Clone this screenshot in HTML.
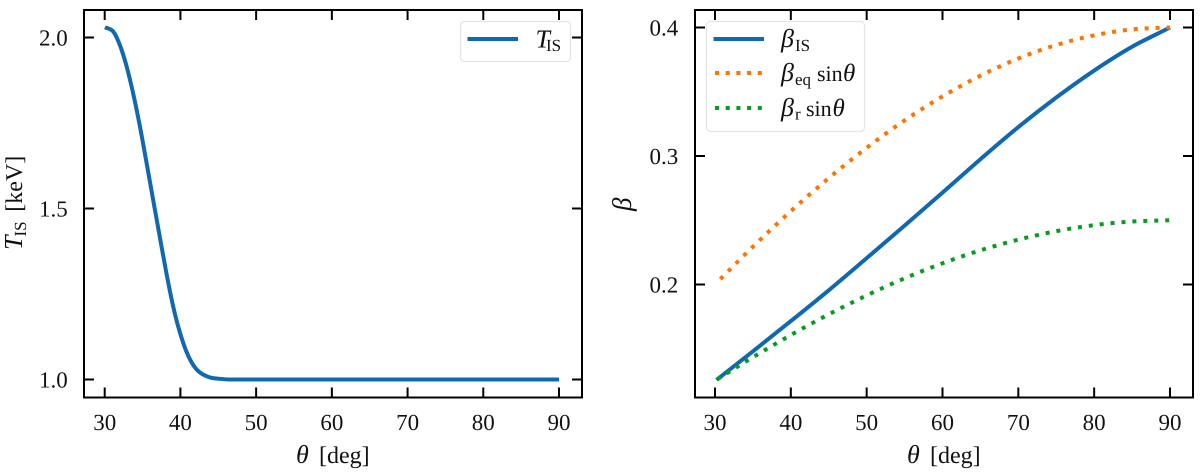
<!DOCTYPE html>
<html lang="en">
<head>
<meta charset="utf-8">
<title>Temperature and velocity versus angle</title>
<style>
html,body{margin:0;padding:0;background:#fff;width:1200px;height:476px;overflow:hidden}
svg{display:block}
text{font-family:"Liberation Serif","DejaVu Serif",serif;fill:#111;text-rendering:geometricPrecision}
.it{font-style:italic}
</style>
</head>
<body>
<svg id="figure" xmlns="http://www.w3.org/2000/svg" width="1200" height="476" viewBox="0 0 1200 476">
  <rect x="0" y="0" width="1200" height="476" fill="#fff"/>
  <g id="left-panel"></g>
  <g id="right-panel"></g>

  <text y="463" font-size="24"><tspan class="it" x="296" font-size="26">θ</tspan><tspan x="319">[deg]</tspan></text>
  <text y="463" font-size="24"><tspan class="it" x="907" font-size="26">θ</tspan><tspan x="930">[deg]</tspan></text>

  <text transform="translate(22,250) rotate(-90)" font-size="24"><tspan class="it" x="0" y="0" font-size="26">T</tspan><tspan x="13.5" y="4" font-size="17">IS</tspan><tspan x="38.3" y="0">[keV]</tspan></text>
  <text transform="translate(631,211) rotate(-90)" font-size="27" class="it">β</text>

  <g>
    <rect x="460.5" y="21.5" width="110" height="40" rx="4" ry="4" fill="#fff" stroke="#e4e4e4" stroke-width="1.2"/>
    <line x1="467.5" x2="518" y1="39" y2="39" stroke="#1068b0" stroke-width="4"/>
    <text><tspan class="it" x="535.5" y="47.5" font-size="26">T</tspan><tspan x="546" y="51" font-size="17">IS</tspan></text>
  </g>

  <g>
    <rect x="706.5" y="21.5" width="158" height="110" rx="4" ry="4" fill="#fff" stroke="#e4e4e4" stroke-width="1.2"/>
    <line x1="713.5" x2="764" y1="39" y2="39" stroke="#1068b0" stroke-width="4"/>
    <line x1="715" x2="764" y1="73" y2="73" stroke="#ff7300" stroke-width="4" stroke-dasharray="4 6.7"/>
    <line x1="715" x2="764" y1="108" y2="108" stroke="#0a9a1e" stroke-width="4" stroke-dasharray="4 6.7"/>
    <text><tspan class="it" x="781" y="47" font-size="26">β</tspan><tspan x="795" y="51" font-size="17">IS</tspan></text>
    <text><tspan class="it" x="781" y="81" font-size="26">β</tspan><tspan x="795" y="85" font-size="17">eq</tspan><tspan x="817" y="81" font-size="22">sin</tspan><tspan class="it" x="843" y="81" font-size="25">θ</tspan></text>
    <text><tspan class="it" x="781" y="116" font-size="26">β</tspan><tspan x="795" y="119.5" font-size="17">r</tspan><tspan x="806" y="116" font-size="22">sin</tspan><tspan class="it" x="832.5" y="116" font-size="25">θ</tspan></text>
  </g>
</svg>

<script>
// Shared tick labels
const xTickValues = [30, 40, 50, 60, 70, 80, 90];
const leftYTickValues = [1.0, 1.5, 2.0];
const rightYTickValues = [0.2, 0.3, 0.4];

// Left panel series
const tempTheta = [30.04, 31.14, 32.0, 32.9, 33.8, 34.66, 35.5, 36.4, 37.3, 38.2, 39.05, 39.9, 40.8, 41.7, 42.6, 43.9, 45.2, 46.5, 50, 60, 70, 80, 90];
const tempValues = [2.03, 2.017, 1.978, 1.915, 1.832, 1.739, 1.637, 1.525, 1.414, 1.305, 1.213, 1.14, 1.081, 1.042, 1.02, 1.006, 1.002, 1.0, 1.0, 1.0, 1.0, 1.0, 1.0];

// Right panel series
const betaIsTheta = [30.2, 35, 40, 45, 50, 55, 60, 65, 70, 75, 80, 85, 90];
const betaIsValues = [0.1257, 0.148, 0.1715, 0.1955, 0.2205, 0.2458, 0.2715, 0.2975, 0.3225, 0.3455, 0.3665, 0.385, 0.4];
const betaEqTheta = [30.7, 35, 40, 45, 50, 55, 60, 65, 70, 75, 80, 85, 90];
const betaEqValues = [0.2042, 0.2294, 0.2571, 0.2828, 0.3064, 0.3277, 0.3464, 0.3625, 0.3759, 0.3864, 0.3939, 0.3985, 0.4];
const betaRTheta = [30.3, 35, 40, 45, 50, 55, 60, 65, 70, 75, 80, 85, 90];
const betaRValues = [0.1262, 0.1434, 0.1607, 0.1768, 0.1915, 0.2048, 0.2165, 0.2266, 0.2349, 0.2415, 0.2462, 0.249, 0.25];

const NS = 'http://www.w3.org/2000/svg';

function linear(d0, d1, r0, r1) {
  return function (v) { return r0 + (v - d0) * (r1 - r0) / (d1 - d0); };
}

function make(parent, tag, attrs) {
  const el = document.createElementNS(NS, tag);
  for (const k in attrs) el.setAttribute(k, attrs[k]);
  parent.appendChild(el);
  return el;
}

// Cubic path through the mapped data points, with monotone-limited central tangents
function smoothPath(xs, ys, xScale, yScale) {
  const px = xs.map(xScale);
  const py = ys.map(yScale);
  const n = px.length;
  const sl = [];
  for (let i = 0; i < n - 1; i++) sl.push((py[i + 1] - py[i]) / (px[i + 1] - px[i]));
  const m = [sl[0]];
  for (let i = 1; i < n - 1; i++) {
    if (sl[i - 1] * sl[i] <= 0) { m.push(0); continue; }
    const central = (py[i + 1] - py[i - 1]) / (px[i + 1] - px[i - 1]);
    const limit = 3 * Math.min(Math.abs(sl[i - 1]), Math.abs(sl[i]));
    m.push(Math.sign(central) * Math.min(Math.abs(central), limit));
  }
  m.push(sl[n - 2]);
  let d = 'M' + px[0].toFixed(2) + ' ' + py[0].toFixed(2);
  for (let i = 0; i < n - 1; i++) {
    const h = (px[i + 1] - px[i]) / 3;
    d += 'C' + (px[i] + h).toFixed(2) + ' ' + (py[i] + m[i] * h).toFixed(2) + ' ' +
      (px[i + 1] - h).toFixed(2) + ' ' + (py[i + 1] - m[i + 1] * h).toFixed(2) + ' ' +
      px[i + 1].toFixed(2) + ' ' + py[i + 1].toFixed(2);
  }
  return d;
}

function drawAxes(group, box, xScale, yScale, yTicks, labelRight) {
  for (const v of xTickValues) {
    const x = xScale(v);
    const bottomTick = make(group, 'line', { x1: x, x2: x, y1: box.bottom, y2: box.bottom - 10, stroke: '#000', 'stroke-width': 2 });
    
    
    const topTick = make(group, 'line', { x1: x, x2: x, y1: box.top, y2: box.top + 10, stroke: '#000', 'stroke-width': 2 });
    
    
    const label = make(group, 'text', { x: x, y: 430, 'text-anchor': 'middle', 'font-size': 23 });
    
    
    label.textContent = String(v);
  }
  for (const v of yTicks) {
    const y = yScale(v);
    const leftTick = make(group, 'line', { x1: box.left, x2: box.left + 10, y1: y, y2: y, stroke: '#000', 'stroke-width': 2 });
    
    
    const rightTick = make(group, 'line', { x1: box.right, x2: box.right - 10, y1: y, y2: y, stroke: '#000', 'stroke-width': 2 });
    
    
    const label = make(group, 'text', { x: labelRight, y: y + 8, 'text-anchor': 'end', 'font-size': 23 });
    
    
    label.textContent = v.toFixed(1);
  }
}

function drawFrame(group, box) {
  const frame = make(group, 'rect', { x: box.left, y: box.top, width: box.right - box.left, height: box.bottom - box.top, fill: 'none', stroke: '#000', 'stroke-width': 2 });
  
  
}

// Left panel
const leftBox = { left: 84, right: 582, top: 10, bottom: 397.5 };
const leftX = linear(30, 90, 104.7, 559);
const leftY = linear(1, 2, 379.5, 37.5);
const leftGroup = document.getElementById('left-panel');
drawAxes(leftGroup, leftBox, leftX, leftY, leftYTickValues, 67.7);
const tempLine = make(leftGroup, 'path', { d: smoothPath(tempTheta, tempValues, leftX, leftY), fill: 'none', stroke: '#1068b0', 'stroke-width': 4 });


drawFrame(leftGroup, leftBox);

// Right panel
const rightBox = { left: 695, right: 1193, top: 10, bottom: 397.5 };
const rightX = linear(30, 90, 715, 1170);
const rightY = linear(0.2, 0.4, 284.5, 27.5);
const rightGroup = document.getElementById('right-panel');
drawAxes(rightGroup, rightBox, rightX, rightY, rightYTickValues, 678.3);
const betaIsLine = make(rightGroup, 'path', { d: smoothPath(betaIsTheta, betaIsValues, rightX, rightY), fill: 'none', stroke: '#1068b0', 'stroke-width': 4 });


const betaEqLine = make(rightGroup, 'path', { d: smoothPath(betaEqTheta, betaEqValues, rightX, rightY), fill: 'none', stroke: '#ff7300', 'stroke-width': 4, 'stroke-dasharray': '4 6.95' });


const betaRLine = make(rightGroup, 'path', { d: smoothPath(betaRTheta, betaRValues, rightX, rightY), fill: 'none', stroke: '#0a9a1e', 'stroke-width': 4, 'stroke-dasharray': '4 6.95' });


drawFrame(rightGroup, rightBox);
</script>
</body>
</html>
